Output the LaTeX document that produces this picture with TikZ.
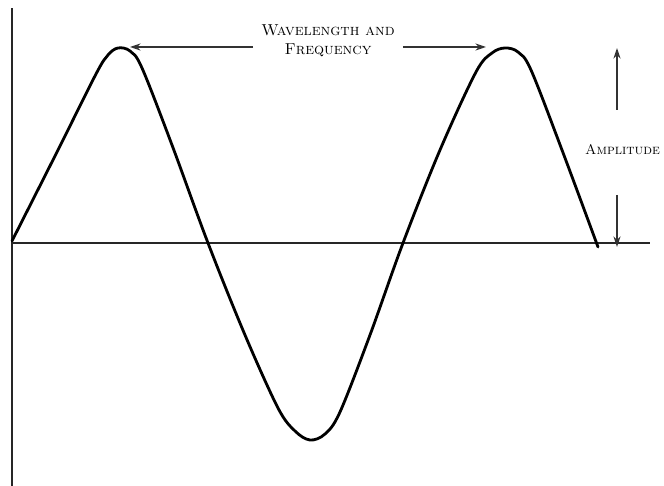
\documentclass[tikz,border=0pt]{standalone}
\usepackage{tikz}
\usetikzlibrary{arrows.meta,positioning,calc}

\begin{document}
\begin{tikzpicture}[
  x=0.02cm, y=-0.02cm,
  axis/.style={line width=1.1pt, black!85},
  wave/.style={line width=1.6pt, black, line cap=round, line join=round},
  dim/.style={-{Stealth[length=6pt, width=4pt]}, line width=0.9pt, black!80},
  lbl/.style={font=\small\scshape, align=center, inner sep=1pt}
]
\useasboundingbox (0,0) rectangle (664,486);

% === Axes ===
\coordinate (origin) at (12,243);
\coordinate (ytop) at (12,8);
\coordinate (ybot) at (12,486);
\coordinate (xend) at (650,243);
\draw[axis] (ybot) -- (ytop);
\draw[axis] (origin) -- (xend);

% === Wave ===
\draw[wave] plot[smooth, tension=0.55] coordinates {
  (12,241) (58,150) (96,74) (108,55) (118,48) (130,51) (142,68)
  (172,145) (208,243) (245,335) (278,408) (295,431) (310,440)
  (325,434) (340,412) (370,335) (403,243) (440,150) (476,72)
  (492,53) (505,48) (518,52) (531,70) (562,150) (598,247)};

% === Wavelength and frequency ===
\coordinate (lpeak) at (130,47);
\coordinate (rpeak) at (486,47);
\node[lbl] (wlen) at (328,41) {Wavelength and\\Frequency};
\draw[dim] (wlen.west |- lpeak) ++(-6,0) -- (lpeak);
\draw[dim] (wlen.east |- rpeak) ++(6,0) -- (rpeak);

% === Amplitude ===
\node[lbl, font=\footnotesize\scshape, anchor=east] (amp) at (662,150) {Amplitude};
\coordinate (atop) at (617,48);
\coordinate (abot) at (617,247);
\coordinate (aup) at (617,110);
\coordinate (adown) at (617,195);
\draw[dim] (aup) -- (atop);
\draw[dim] (adown) -- (abot);

\end{tikzpicture}
\end{document}
